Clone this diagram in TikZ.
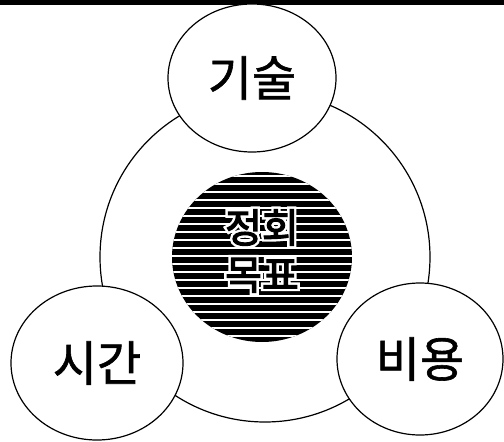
\documentclass[tikz,border=0pt]{standalone}
\usepackage{fontspec}
\newfontfamily\kr[FakeBold=1.2]{Noto Sans CJK KR}
\newfontfamily\krgoal{Noto Sans CJK KR}
\usetikzlibrary{shapes.geometric}

\tikzset{
  factor/.style={draw, ellipse, line width=1.2pt, fill=white, inner sep=0pt,
    font=\kr\fontsize{48}{50}\selectfont},
  goalfont/.style={font=\krgoal\fontsize{40}{47}\selectfont},
}
% black letters on a white halo
\newcommand{\halotext}[1]{{\color{white}\special{pdf:literal direct 1 Tr 6 w}\rlap{#1}\special{pdf:literal direct 0 Tr}}{\special{pdf:literal direct 2 Tr 1.2 w}#1\special{pdf:literal direct 0 Tr}}}

\begin{document}
\begin{tikzpicture}[x=1pt, y=-1pt]
    \useasboundingbox (0,0) rectangle (504,442);
    \fill (0,0) rectangle (504,5);
    % outer ring
    \node[draw, circle, line width=1.2pt, minimum size=330pt] (project) at (265,257) {};
    % striped goal in the middle
    \node[ellipse, minimum width=180pt, minimum height=170pt, inner sep=0pt] (goal) at (262,257) {};
    \begin{scope}
        \clip (goal.center) ellipse [x radius=90, y radius=85];
        \fill (170,170) rectangle (360,345);
        \foreach \y in {176,184,...,340}
            \draw[white, line width=2.6pt] (170,\y) -- (360,\y);
    \end{scope}
    \node[goalfont, align=center] (goaltext) at (262,251) {\halotext{정회}\\\halotext{목표}};
    % the three factors
    \node[factor, minimum width=168pt, minimum height=148pt] (tech) at (252,78) {기술};
    \node[factor, minimum width=172pt, minimum height=154pt] (time) at (97,363) {시간};
    \node[factor, minimum width=166pt, minimum height=152pt] (cost) at (420,359) {비용};
\end{tikzpicture}
\end{document}
